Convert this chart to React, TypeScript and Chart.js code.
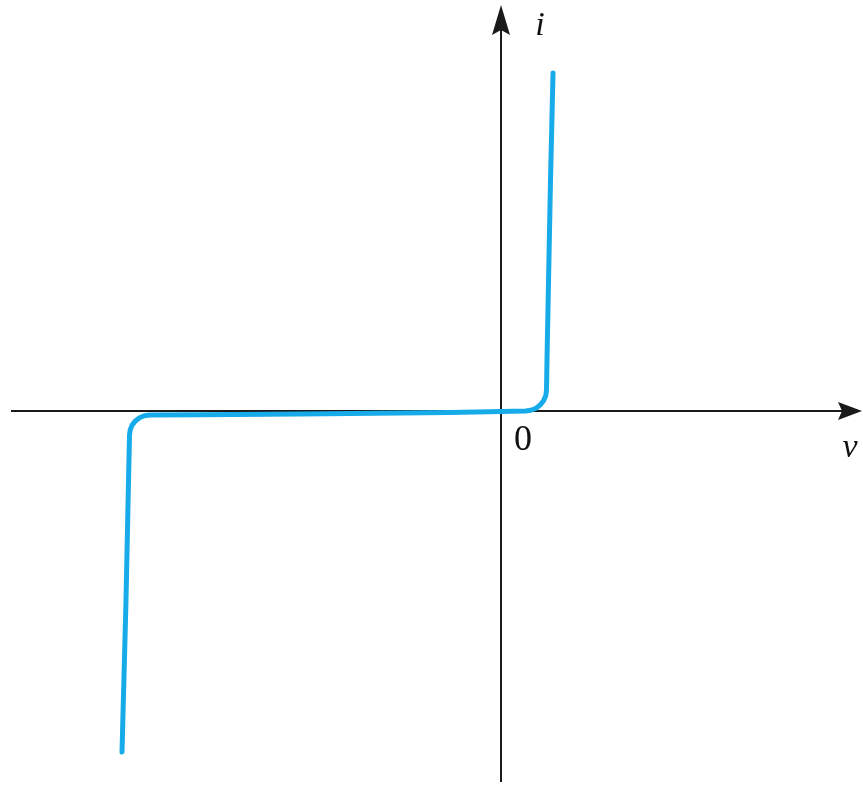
import { useEffect, useRef } from "react";
import { Chart, registerables } from "chart.js";

Chart.register(...registerables);

// Diode i–v characteristic: voltage (V) and current (mA) samples along the curve
const voltage = [
  -5.414, -5.357, -5.321, -5.307, -5.297, -5.269, -5.223, -5.164, -5.096,
  -5.021, -4.3, -2.871, -0.729, 0, 0.35, 0.427, 0.5, 0.563, 0.61, 0.64, 0.65,
  0.657, 0.679, 0.707, 0.743,
];
const current = [
  -10.059, -5.575, -2.035, -0.708, -0.555, -0.413, -0.292, -0.198, -0.139,
  -0.118, -0.112, -0.088, -0.044, -0.015, 0, 0.021, 0.083, 0.183, 0.31, 0.46,
  0.619, 1.504, 3.864, 6.814, 9.971,
];

// Axis labels
const xLabel = "v";
const yLabel = "i";
const originLabel = "0";

const W = 863;
const H = 785;
const SERIF = `"Times New Roman", Times, "Liberation Serif", serif`;

const axesPlugin = {
  id: "crossAxes",
  beforeDatasetsDraw(chart: any) {
    const { ctx, scales } = chart;
    const xs = scales.x;
    const ys = scales.y;
    const x0 = xs.getPixelForValue(0);
    const y0 = ys.getPixelForValue(0);
    const xl = xs.getPixelForValue(-7.0);
    const xr = xs.getPixelForValue(5.157);
    const yb = ys.getPixelForValue(-10.94);
    const yt = ys.getPixelForValue(11.98);
    ctx.save();
    ctx.strokeStyle = "#1a1a1a";
    ctx.fillStyle = "#1a1a1a";
    ctx.lineWidth = 2;
    // horizontal axis
    ctx.beginPath();
    ctx.moveTo(xl, y0);
    ctx.lineTo(xr - 10, y0);
    ctx.stroke();
    // vertical axis
    ctx.beginPath();
    ctx.moveTo(x0, yb);
    ctx.lineTo(x0, yt + 12);
    ctx.stroke();
    // arrowheads
    ctx.beginPath();
    ctx.moveTo(xr, y0);
    ctx.lineTo(xr - 24, y0 - 9);
    ctx.lineTo(xr - 20, y0);
    ctx.lineTo(xr - 24, y0 + 9);
    ctx.closePath();
    ctx.fill();
    ctx.beginPath();
    ctx.moveTo(x0, yt);
    ctx.lineTo(x0 - 9, yt + 30);
    ctx.lineTo(x0, yt + 25);
    ctx.lineTo(x0 + 9, yt + 30);
    ctx.closePath();
    ctx.fill();
    ctx.restore();
  },
  afterDraw(chart: any) {
    const { ctx, scales } = chart;
    const x0 = scales.x.getPixelForValue(0);
    const y0 = scales.y.getPixelForValue(0);
    ctx.save();
    ctx.fillStyle = "#111";
    ctx.textAlign = "center";
    ctx.textBaseline = "alphabetic";
    ctx.font = `italic 34px ${SERIF}`;
    ctx.fillText(yLabel, x0 + 39, 35);
    ctx.fillText(xLabel, 850, y0 + 46);
    ctx.font = `36px ${SERIF}`;
    ctx.fillText(originLabel, x0 + 22, y0 + 39);
    ctx.restore();
  },
};

export default function App() {
  const ref = useRef<HTMLCanvasElement | null>(null);

  useEffect(() => {
    let chart: Chart | null = null;
    let cancelled = false;
    const build = () => {
      if (cancelled || !ref.current) return;
      const points = voltage.map((v, k) => ({ x: v, y: current[k] }));
      chart = new Chart(ref.current, {
        type: "scatter",
        data: {
          datasets: [
            {
              data: points,
              showLine: true,
              borderColor: "#18abea",
              borderWidth: 5,
              borderCapStyle: "round",
              borderJoinStyle: "round",
              tension: 0,
              pointRadius: 0,
              pointHoverRadius: 0,
            },
          ],
        },
        options: {
          animation: false,
          responsive: false,
          devicePixelRatio: 1,
          layout: { padding: 0 },
          plugins: {
            legend: { display: false },
            tooltip: { enabled: false },
          },
          events: [],
          scales: {
            x: { type: "linear", min: -7.157, max: 5.171, display: false },
            y: { type: "linear", min: -11.032, max: 12.124, display: false },
          },
        },
        plugins: [axesPlugin],
      });
    };
    const fonts = (document as any).fonts;
    if (fonts && fonts.load) {
      Promise.all([
        fonts.load(`italic 34px ${SERIF}`),
        fonts.load(`36px ${SERIF}`),
      ])
        .catch(() => undefined)
        .then(build);
    } else {
      build();
    }
    return () => {
      cancelled = true;
      if (chart) chart.destroy();
    };
  }, []);

  return (
    <div
      style={{
        position: "fixed",
        left: 0,
        top: 0,
        width: W,
        height: H,
        background: "#fff",
      }}
    >
      <canvas ref={ref} width={W} height={H} style={{ width: W, height: H, display: "block" }} />
    </div>
  );
}
